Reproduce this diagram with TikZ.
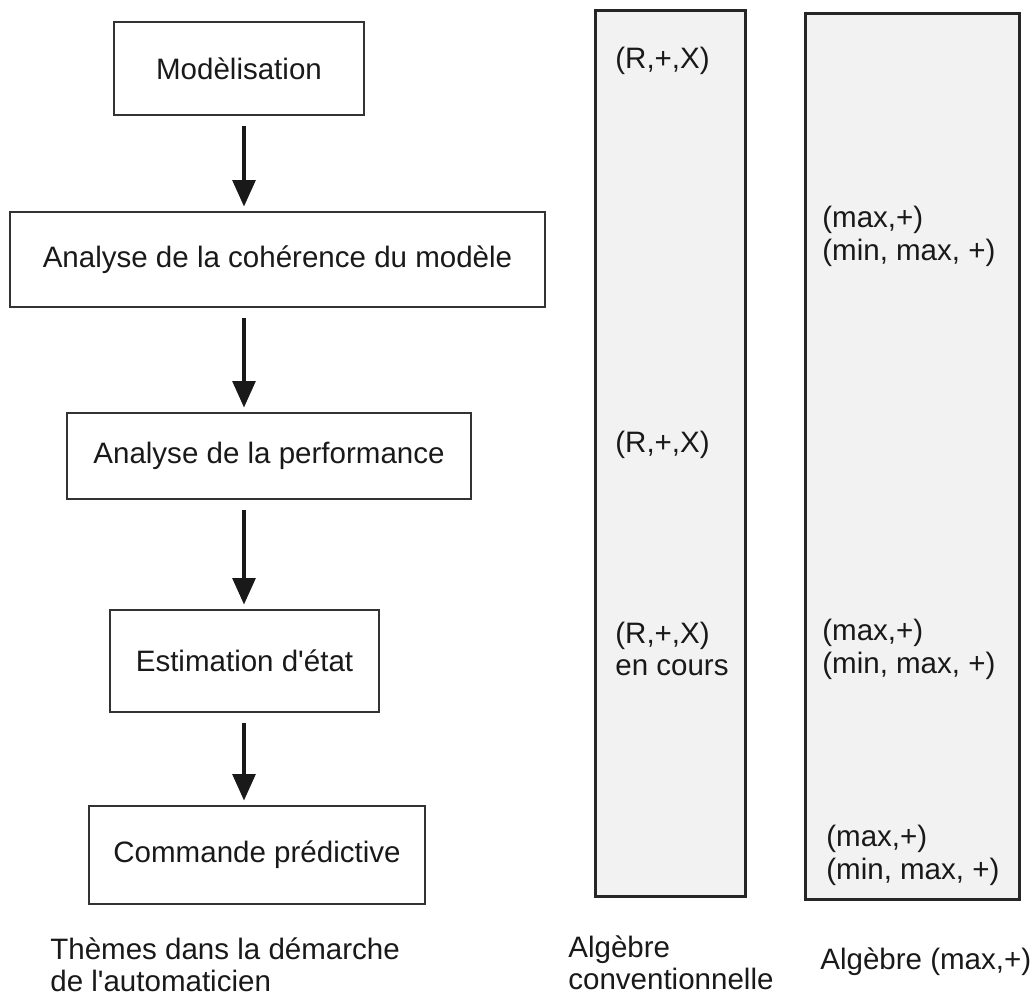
\documentclass[tikz,border=0pt]{standalone}
\usepackage{fontspec}
\setmainfont{Liberation Sans}
\usetikzlibrary{arrows.meta}

\newcommand{\themefont}{\fontsize{16.8}{18.4}\selectfont}
\tikzset{
  theme/.style={draw=black!80, line width=0.6pt, inner sep=0pt, font=\themefont},
  column/.style={draw=black!85, fill=black!5, line width=1.7pt, inner sep=0pt},
  flow/.style={line width=1.8pt, draw=black!90, -{Triangle[length=15pt,width=13pt]},
    shorten <=0.2cm, shorten >=0.1cm},
  tag/.style={anchor=west, align=left, inner sep=0pt, font=\themefont}
}

\begin{document}
\begin{tikzpicture}[text=black!90]
\useasboundingbox (0,0) rectangle (20.70,-19.96);

% themes
\node[theme, minimum width=5.00cm, minimum height=1.86cm] (model) at (4.78,-1.37) {Modèlisation};
\node[theme, minimum width=10.70cm, minimum height=1.90cm] (coh) at (5.55,-5.19) {Analyse de la cohérence du modèle};
\node[theme, minimum width=8.08cm, minimum height=1.72cm] (perf) at (5.38,-9.12) {Analyse de la performance};
\node[theme, minimum width=5.38cm, minimum height=2.04cm] (etat) at (4.89,-13.22) {Estimation d\textquotesingle état};
\node[theme, minimum width=6.72cm, minimum height=1.96cm] (cmd) at (5.14,-17.10) {Commande prédictive};

\coordinate (axis) at (4.88,0);
\draw[flow] (model.south -| axis) -- (coh.north -| axis);
\draw[flow] (coh.south -| axis) -- (perf.north -| axis);
\draw[flow] (perf.south -| axis) -- (etat.north -| axis);
\draw[flow] (etat.south -| axis) -- (cmd.north -| axis);

% algebres
\node[column, minimum width=3.00cm, minimum height=17.72cm] (conv) at (13.40,-9.06) {};
\node[column, minimum width=4.28cm, minimum height=17.72cm] (maxplus) at (18.24,-9.12) {};

\node[tag] (r1) at (12.30,-1.22) {(R,+,X)};
\node[tag] (r2) at (12.30,-8.90) {(R,+,X)};
\node[tag] (r3) at (12.30,-12.98) {(R,+,X)\\en cours};

\node[tag] (m1) at (16.44,-4.73) {(max,+)\\(min, max, +)};
\node[tag] (m2) at (16.44,-12.99) {(max,+)\\(min, max, +)};
\node[tag] (m3) at (16.52,-17.11) {(max,+)\\(min, max, +)};

% legendes
\node[tag] (capthemes) at (1.00,-19.29) {Thèmes dans la démarche\\de l\textquotesingle automaticien};
\node[tag] (capconv) at (11.36,-19.26) {Algèbre\\conventionnelle};
\node[tag] (capmax) at (16.40,-19.24) {Algèbre (max,+)};

\end{tikzpicture}
\end{document}
